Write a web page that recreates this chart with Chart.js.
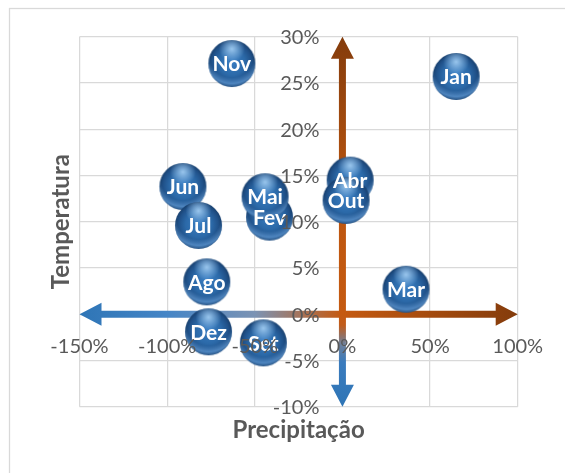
<!DOCTYPE html>
<html>
<head>
<meta charset="utf-8">
<script src="https://cdn.jsdelivr.net/npm/chart.js@4/dist/chart.umd.min.js"></script>
<style>
  html, body { margin: 0; padding: 0; background: #ffffff; }
  #wrap { width: 565px; height: 473px; position: relative; }
</style>
</head>
<body>
<div id="wrap"><canvas id="c" width="565" height="473"></canvas></div>
<script>
// ---- data ----
const months = ['Jan','Fev','Mar','Abr','Mai','Jun','Jul','Ago','Set','Out','Nov','Dez'];
const precipitacao = [0.649, -0.416, 0.363, 0.044, -0.441, -0.910, -0.821, -0.774, -0.451, 0.021, -0.631, -0.764];
const temperatura = [0.257, 0.105, 0.027, 0.145, 0.127, 0.138, 0.096, 0.035, -0.031, 0.123, 0.271, -0.019];
const xTicks = [-1.5, -1.0, -0.5, 0, 0.5, 1.0];
const yTicks = [-0.10, -0.05, 0, 0.05, 0.10, 0.15, 0.20, 0.25, 0.30];
const xTitle = 'Precipitação';
const yTitle = 'Temperatura';

const GRAY_TXT = '#595959';
const FONT = 'Lato, "Open Sans", "DejaVu Sans", sans-serif';

// ---- sphere marker image ----
function makeSphere(r) {
  const size = Math.ceil(r * 2 + 2);
  const c = document.createElement('canvas');
  c.width = size; c.height = size;
  const g = c.getContext('2d');
  const cx = size / 2, cy = size / 2;
  let grad = g.createRadialGradient(cx, cy - r * 0.1, 0, cx, cy, r);
  grad.addColorStop(0, '#3a7ec3');
  grad.addColorStop(0.55, '#2c6aa9');
  grad.addColorStop(0.85, '#205189');
  grad.addColorStop(1, '#18406e');
  g.beginPath(); g.arc(cx, cy, r, 0, Math.PI * 2); g.fillStyle = grad; g.fill();
  g.save();
  g.beginPath(); g.arc(cx, cy, r, 0, Math.PI * 2); g.clip();
  grad = g.createRadialGradient(cx, cy - r * 0.35, r * 0.95, cx, cy - r * 0.35, r * 1.4);
  grad.addColorStop(0, 'rgba(110,170,230,0)');
  grad.addColorStop(0.55, 'rgba(110,170,230,0.6)');
  grad.addColorStop(1, 'rgba(110,170,230,0)');
  g.fillStyle = grad; g.fillRect(0, 0, size, size);
  grad = g.createRadialGradient(cx, cy - r * 0.62, 0, cx, cy - r * 0.62, r * 0.55);
  grad.addColorStop(0, 'rgba(165,208,245,0.9)');
  grad.addColorStop(1, 'rgba(165,208,245,0)');
  g.fillStyle = grad; g.fillRect(0, 0, size, size);
  g.restore();
  return c;
}
const sphere = makeSphere(23.5);

const pct = v => `${Math.round(v * 100)}%`;

// ---- plugins ----
const frame = {
  id: 'frame',
  beforeDraw(chart) {
    const ctx = chart.ctx;
    ctx.save();
    ctx.fillStyle = '#ffffff';
    ctx.fillRect(0, 0, chart.width, chart.height);
    ctx.strokeStyle = '#d9d9d9';
    ctx.lineWidth = 1.25;
    ctx.strokeRect(9.5, 8.5, chart.width + 20, chart.height + 20);
    ctx.restore();
  }
};

const arrows = {
  id: 'arrows',
  beforeDatasetsDraw(chart) {
    const { ctx, scales: { x, y } } = chart;
    const x0 = x.getPixelForValue(0), y0 = y.getPixelForValue(0);
    const xl = x.getPixelForValue(x.min), xr = x.getPixelForValue(x.max);
    const yt = y.getPixelForValue(y.max), yb = y.getPixelForValue(y.min);
    const W = 7, HL = 22, HW = 23;
    ctx.save();
    let g = ctx.createLinearGradient(xl, 0, xr, 0);
    g.addColorStop(0, '#2e75b6');
    g.addColorStop(0.2, '#4585c6');
    g.addColorStop(0.4, '#7b93b4');
    g.addColorStop(0.5, '#a4755e');
    g.addColorStop(0.6, '#c55a11');
    g.addColorStop(1, '#843c0c');
    ctx.fillStyle = g;
    ctx.beginPath();
    ctx.moveTo(xl, y0);
    ctx.lineTo(xl + HL, y0 - HW / 2);
    ctx.lineTo(xl + HL, y0 - W / 2);
    ctx.lineTo(xr - HL, y0 - W / 2);
    ctx.lineTo(xr - HL, y0 - HW / 2);
    ctx.lineTo(xr, y0);
    ctx.lineTo(xr - HL, y0 + HW / 2);
    ctx.lineTo(xr - HL, y0 + W / 2);
    ctx.lineTo(xl + HL, y0 + W / 2);
    ctx.lineTo(xl + HL, y0 + HW / 2);
    ctx.closePath();
    ctx.fill();
    g = ctx.createLinearGradient(0, yb, 0, yt);
    g.addColorStop(0, '#2e75b6');
    g.addColorStop(0.12, '#3a7bbd');
    g.addColorStop(0.17, '#6f809a');
    g.addColorStop(0.22, '#c05c1c');
    g.addColorStop(0.25, '#c55a11');
    g.addColorStop(0.55, '#bd560f');
    g.addColorStop(1, '#843c0c');
    ctx.fillStyle = g;
    ctx.beginPath();
    ctx.moveTo(x0, yt);
    ctx.lineTo(x0 + HW / 2, yt + HL);
    ctx.lineTo(x0 + W / 2, yt + HL);
    ctx.lineTo(x0 + W / 2, yb - HL);
    ctx.lineTo(x0 + HW / 2, yb - HL);
    ctx.lineTo(x0, yb);
    ctx.lineTo(x0 - HW / 2, yb - HL);
    ctx.lineTo(x0 - W / 2, yb - HL);
    ctx.lineTo(x0 - W / 2, yt + HL);
    ctx.lineTo(x0 - HW / 2, yt + HL);
    ctx.closePath();
    ctx.fill();
    ctx.restore();
  }
};

const pointLabels = {
  id: 'pointLabels',
  afterDatasetsDraw(chart) {
    const ctx = chart.ctx;
    const meta = chart.getDatasetMeta(0);
    ctx.save();
    ctx.font = `bold 21px ${FONT}`;
    ctx.fillStyle = '#ffffff';
    ctx.textAlign = 'center';
    ctx.textBaseline = 'middle';
    meta.data.forEach((pt, i) => {
      ctx.fillText(months[i], pt.x, pt.y + 1);
    });
    ctx.restore();
  }
};

// y tick labels, right-aligned just left of the vertical (x = 0) axis
const yTickLabels = {
  id: 'yTickLabels',
  afterDraw(chart) {
    const { ctx, scales: { x, y } } = chart;
    const x0 = x.getPixelForValue(0);
    ctx.save();
    ctx.font = `20px ${FONT}`;
    ctx.fillStyle = GRAY_TXT;
    ctx.textAlign = 'right';
    ctx.textBaseline = 'middle';
    y.ticks.forEach(t => {
      ctx.fillText(pct(t.value), x0 - 23, y.getPixelForValue(t.value) + 1);
    });
    ctx.restore();
  }
};

const axisTitles = {
  id: 'axisTitles',
  afterDraw(chart) {
    const { ctx, chartArea: a } = chart;
    ctx.save();
    ctx.font = `bold 24px ${FONT}`;
    ctx.fillStyle = GRAY_TXT;
    ctx.textAlign = 'center';
    ctx.textBaseline = 'middle';
    ctx.fillText(xTitle, (a.left + a.right) / 2, a.bottom + 24);
    ctx.translate(a.left - 18, (a.top + a.bottom) / 2);
    ctx.rotate(-Math.PI / 2);
    ctx.fillText(yTitle, 0, 0);
    ctx.restore();
  }
};

// ---- chart ----
new Chart(document.getElementById('c'), {
  type: 'scatter',
  data: {
    labels: months,
    datasets: [{
      label: 'Meses',
      data: precipitacao.map((v, i) => ({ x: v, y: temperatura[i] })),
      pointStyle: sphere,
      pointRadius: 23,
      pointHoverRadius: 23,
      backgroundColor: '#2e75b6'
    }]
  },
  options: {
    responsive: false,
    animation: false,
    events: [],
    layout: { padding: { left: 79.5, top: 36.7, right: 47.3, bottom: 66.3 } },
    plugins: { legend: { display: false }, tooltip: { enabled: false }, title: { display: false } },
    scales: {
      x: {
        type: 'linear',
        position: { y: 0 },
        min: xTicks[0],
        max: xTicks[xTicks.length - 1],
        afterBuildTicks: s => { s.ticks = xTicks.map(v => ({ value: v })); },
        grid: { color: '#d9d9d9', lineWidth: 1.25, drawTicks: false },
        border: { display: false },
        ticks: { z: 1, padding: 20.5, color: GRAY_TXT, font: { family: FONT, size: 20 }, callback: v => pct(v), maxRotation: 0, autoSkip: false }
      },
      y: {
        type: 'linear',
        position: { x: 0 },
        min: yTicks[0],
        max: yTicks[yTicks.length - 1],
        afterBuildTicks: s => { s.ticks = yTicks.map(v => ({ value: v })); },
        grid: { color: '#d9d9d9', lineWidth: 1.25, drawTicks: false },
        border: { display: false },
        ticks: { display: false, autoSkip: false }
      }
    }
  },
  plugins: [frame, arrows, pointLabels, yTickLabels, axisTitles]
});
</script>
</body>
</html>
